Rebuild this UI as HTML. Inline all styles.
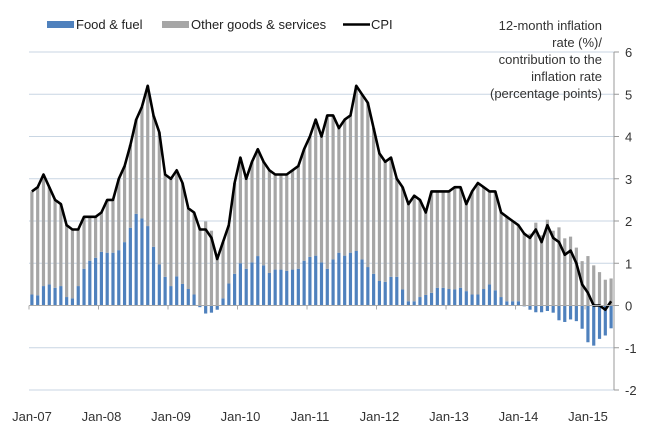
<!DOCTYPE html>
<html><head><meta charset="utf-8"><style>
body{margin:0;background:#fff;}
svg{display:block;font-family:"Liberation Sans",sans-serif;}
</style></head><body>
<svg id="chart" width="657" height="442" viewBox="0 0 657 442">
<g id="grid"></g>
<g id="bars"></g>
<g id="line"></g>
<g id="axes"></g>
<g font-size="13" fill="#222">
  <rect x="47" y="21" width="27" height="7" fill="#4f81bd"/>
  <text x="76" y="29">Food &amp; fuel</text>
  <rect x="162" y="21" width="27" height="7" fill="#a6a6a6"/>
  <text x="191" y="29">Other goods &amp; services</text>
  <line x1="343" y1="24.5" x2="370" y2="24.5" stroke="#000" stroke-width="2.5"/>
  <text x="371" y="29">CPI</text>
</g>
<g font-size="13" fill="#333" text-anchor="end">
  <text x="602" y="30">12-month inflation</text>
  <text x="602" y="47">rate (%)/</text>
  <text x="602" y="64">contribution to the</text>
  <text x="602" y="81">inflation rate</text>
  <text x="602" y="98">(percentage points)</text>
</g>
</svg>
<script>
const cpi=[2.7,2.8,3.1,2.8,2.5,2.4,1.9,1.8,1.8,2.1,2.1,2.1,
2.2,2.5,2.5,3.0,3.3,3.8,4.4,4.7,5.2,4.5,4.1,3.1,
3.0,3.2,2.9,2.3,2.2,1.8,1.8,1.6,1.1,1.5,1.9,2.9,
3.5,3.0,3.4,3.7,3.4,3.2,3.1,3.1,3.1,3.2,3.3,3.7,
4.0,4.4,4.0,4.5,4.5,4.2,4.4,4.5,5.2,5.0,4.8,4.2,
3.6,3.4,3.5,3.0,2.8,2.4,2.6,2.5,2.2,2.7,2.7,2.7,
2.7,2.8,2.8,2.4,2.7,2.9,2.8,2.7,2.7,2.2,2.1,2.0,
1.9,1.7,1.6,1.8,1.5,1.9,1.6,1.5,1.2,1.3,1.0,0.5,
0.3,0.0,0.0,-0.1,0.1];
const food=[0.26,0.24,0.46,0.5,0.42,0.46,0.2,0.17,0.46,0.87,1.06,1.13,
1.27,1.25,1.25,1.31,1.5,1.84,2.17,2.06,1.88,1.39,0.97,0.68,
0.46,0.69,0.51,0.39,0.26,-0.04,-0.19,-0.17,-0.1,0.17,0.52,0.75,
1.0,0.87,1.02,1.17,0.95,0.77,0.85,0.85,0.82,0.85,0.87,1.06,
1.15,1.18,1.02,0.87,1.09,1.25,1.18,1.25,1.29,1.09,0.91,0.75,
0.58,0.56,0.68,0.68,0.38,0.1,0.1,0.2,0.25,0.3,0.42,0.42,
0.39,0.38,0.42,0.34,0.26,0.26,0.39,0.5,0.36,0.2,0.1,0.1,
0.1,-0.02,-0.1,-0.16,-0.16,-0.13,-0.17,-0.35,-0.39,-0.33,-0.37,-0.55,
-0.87,-0.95,-0.79,-0.71,-0.54];
const other=[2.44,2.56,2.64,2.3,2.08,1.94,1.7,1.63,1.34,1.23,1.04,0.97,
0.93,1.25,1.25,1.69,1.8,1.96,2.23,2.64,3.32,3.11,3.13,2.42,
2.54,2.51,2.39,1.91,1.94,1.84,1.99,1.77,1.2,1.33,1.38,2.15,
2.5,2.13,2.38,2.53,2.45,2.43,2.25,2.25,2.28,2.35,2.43,2.64,
2.85,3.22,2.98,3.63,3.41,2.95,3.22,3.25,3.91,3.91,3.89,3.45,
3.02,2.84,2.82,2.32,2.42,2.3,2.5,2.3,1.95,2.4,2.28,2.28,
2.31,2.42,2.38,2.06,2.44,2.64,2.41,2.2,2.34,2.0,2.0,1.9,
1.8,1.72,1.7,1.96,1.66,2.03,1.77,1.85,1.59,1.63,1.37,1.05,
1.17,0.95,0.79,0.61,0.64];
const yTicks=[-2,-1,0,1,2,3,4,5,6];
const xLabels=["Jan-07","Jan-08","Jan-09","Jan-10","Jan-11","Jan-12","Jan-13","Jan-14","Jan-15"];

const NS="http://www.w3.org/2000/svg";
const L=29,R=614,T=52,B=390,yMin=-2,yMax=6;
const n=cpi.length, bw=(R-L)/n;
function y(v){return B-(v-yMin)/(yMax-yMin)*(B-T);}
function xc(i){return L+(i+0.5)*bw;}
function mk(tag,attrs,parent){const e=document.createElementNS(NS,tag);for(const k in attrs)e.setAttribute(k,attrs[k]);parent.appendChild(e);return e;}
const grid=document.getElementById('grid'),bars=document.getElementById('bars'),lineG=document.getElementById('line'),axes=document.getElementById('axes');
yTicks.forEach(t=>{
  if(t!==0){const g=mk('line',{x1:L,x2:R,y1:y(t),y2:y(t),stroke:'#c9d6e3','stroke-width':1},grid);
  
  }
  const tk=mk('line',{x1:R,x2:R+5,y1:y(t),y2:y(t),stroke:'#999'},axes);
  
  
  const tx=mk('text',{x:R+11,y:y(t)+5,'font-size':13,fill:'#333'},axes);
  tx.textContent=t;
  
  
});
const w=bw*0.55;
for(let i=0;i<n;i++){
  const f=food[i],o=other[i];
  let fb=mk('rect',{x:xc(i)-w/2,y:Math.min(y(0),y(f)),width:w,height:Math.abs(y(f)-y(0)),fill:'#4f81bd'},bars);
  
  
  const base=f>0?f:0;
  let ob=mk('rect',{x:xc(i)-w/2,y:y(base+o),width:w,height:y(base)-y(base+o),fill:'#a6a6a6'},bars);
  
  
}
const pts=cpi.map((v,i)=>xc(i).toFixed(1)+','+y(v).toFixed(1)).join(' ');
const pl=mk('polyline',{points:pts,fill:'none',stroke:'#000','stroke-width':2.6,'stroke-linejoin':'round'},lineG);


const ax=mk('line',{x1:L,x2:R,y1:y(0),y2:y(0),stroke:'#aaa'},axes);


const ay=mk('line',{x1:R,x2:R,y1:T,y2:B,stroke:'#999'},axes);


xLabels.forEach((lab,k)=>{
  const xt=L+k*12*bw;
  const tk=mk('line',{x1:xt,x2:xt,y1:y(0),y2:y(0)+4,stroke:'#aaa'},axes);
  
  
  const tx=mk('text',{x:xt+3,y:421,'font-size':13,fill:'#333','text-anchor':'middle'},axes);
  tx.textContent=lab;
  
  
});
</script>
</body></html>
